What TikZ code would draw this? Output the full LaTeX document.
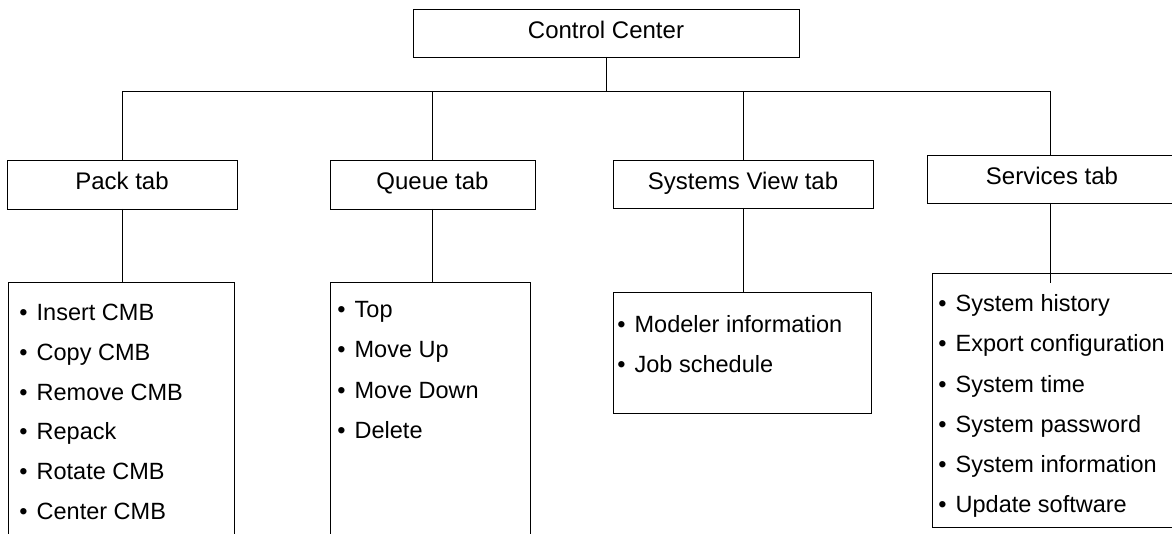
\documentclass[tikz,border=0pt]{standalone}
\usepackage{fontspec}
\setmainfont{Liberation Sans}
\usepackage{tikz}

\begin{document}
\begin{tikzpicture}[x=1pt,y=-1pt,line width=0.9pt]
    \tikzstyle{tabbox}=[draw,rectangle,inner sep=0pt,outer sep=0pt,font=\fontsize{24}{28}\selectfont,text height=17pt,text depth=6pt]
    \tikzstyle{listbox}=[draw,rectangle,inner sep=0pt,outer sep=0pt]
    \tikzstyle{item}=[anchor=base west,inner sep=0pt,font=\fontsize{23.5}{28}\selectfont]
    \useasboundingbox (0,0) rectangle (1172,534);
    \clip (0,0) rectangle (1172,534);
    % top box and the four tabs
    \node[tabbox,minimum width=386pt,minimum height=48pt] (cc) at (606,33) {Control Center};
    \node[tabbox,minimum width=230pt,minimum height=49pt] (pack) at (122,184.5) {Pack tab};
    \node[tabbox,minimum width=205pt,minimum height=49pt] (queue) at (432.5,184.5) {Queue tab};
    \node[tabbox,minimum width=260pt,minimum height=48pt] (sysview) at (743,184) {Systems View tab};
    \node[tabbox,minimum width=270pt,minimum height=48pt] (services) at (1062,179) {\hspace*{-20pt}Services tab};
    % list boxes
    \node[listbox,minimum width=226pt,minimum height=278pt] (packlist) at (121,421) {};
    \node[listbox,minimum width=200pt,minimum height=278pt] (queuelist) at (430,421) {};
    \node[listbox,minimum width=258pt,minimum height=121pt] (sysviewlist) at (742,352.5) {};
    \node[listbox,minimum width=270pt,minimum height=254pt] (serviceslist) at (1067,400) {};
    % list items
    \foreach \t [count=\i] in {Insert CMB,Copy CMB,Remove CMB,Repack,Rotate CMB,Center CMB}
        \node[item] (pack-\i) at (19,{321+(\i-1)*39.6}) {•\hspace{9pt}\t};
    \foreach \t [count=\i] in {Top,Move Up,Move Down,Delete}
        \node[item] (queue-\i) at (337,{318+(\i-1)*40}) {•\hspace{9pt}\t};
    \foreach \t [count=\i] in {Modeler information,Job schedule}
        \node[item] (sysview-\i) at (617,{332.5+(\i-1)*40.5}) {•\hspace{9pt}\t};
    \foreach \t [count=\i] in {System history,Export configuration,System time,System password,System information,Update software}
        \node[item] (services-\i) at (938,{312+(\i-1)*40}) {•\hspace{9pt}\t};
    % connectors
    \coordinate (bus) at (602,91);
    \coordinate (drop) at (1050,91);
    \draw (cc.south) -- (cc.south |- bus);
    \draw (pack.north) -- (pack.north |- bus) -- (drop) -- (drop |- services.north);
    \foreach \n in {queue,sysview}
        \draw (\n.north) -- (\n.north |- bus);
    \draw (pack.south) -- (pack.south |- packlist.north);
    \draw (queue.south) -- (queue.south |- queuelist.north);
    \draw (sysview.south) -- (sysview.south |- sysviewlist.north);
    \draw[shorten >=-10pt] (drop |- services.south) -- (drop |- serviceslist.north);
\end{tikzpicture}
\end{document}
